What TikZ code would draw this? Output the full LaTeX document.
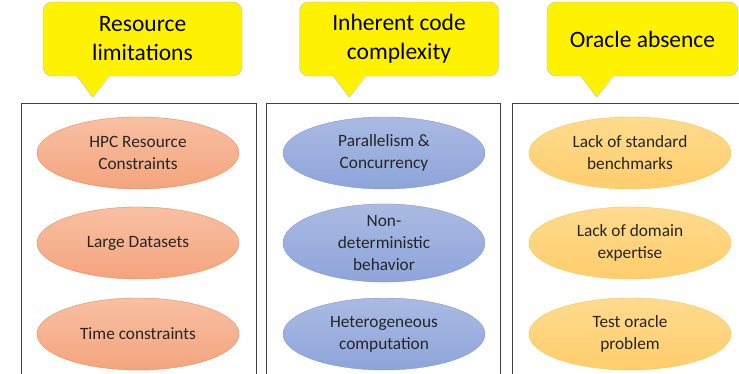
\documentclass[tikz,border=0pt]{standalone}
\usepackage{fontspec}
\setmainfont{Carlito}
\usepackage{pgf,tikz}
\usetikzlibrary{shapes, positioning}
\definecolor{naranjaA}{HTML}{F8C0A3}
\definecolor{naranjaB}{HTML}{F4A47D}
\definecolor{naranjaL}{HTML}{EF8A52}
\definecolor{azulA}{HTML}{AABAE3}
\definecolor{azulB}{HTML}{8EA4DA}
\definecolor{azulL}{HTML}{7F9BD6}
\definecolor{oroA}{HTML}{FFDB8E}
\definecolor{oroB}{HTML}{FFCD6C}
\definecolor{oroL}{HTML}{F9C446}
\definecolor{borde}{HTML}{BFBFBF}
\newcommand{\puntero}[1]{%
	\fill[yellow] ([xshift=33pt,yshift=1.5pt]#1.south west) -- ([xshift=50pt,yshift=-21pt]#1.south west) -- ([xshift=67pt,yshift=1.5pt]#1.south west) -- cycle;
	\draw[borde] ([xshift=34pt]#1.south west) -- ([xshift=50pt,yshift=-21pt]#1.south west) -- ([xshift=67pt]#1.south west);}
\tikzstyle{banner} = [draw=borde, fill=yellow, rounded corners=9pt, minimum width=199pt, minimum height=74pt, inner sep=0pt, align=center, font=\fontsize{23.5}{29}\selectfont]
\tikzstyle{panel} = [draw=black!75, line width=0.8pt]
\tikzstyle{causa} = [ellipse, minimum width=202pt, minimum height=72pt, inner sep=0pt, align=center, text=black!85, font=\fontsize{17.3}{22}\selectfont]
\tikzstyle{recurso} = [causa, draw=naranjaL, top color=naranjaA, bottom color=naranjaB]
\tikzstyle{codigo} = [causa, draw=azulL, top color=azulA, bottom color=azulB]
\tikzstyle{oraculo} = [causa, draw=oroL, top color=oroA, bottom color=oroB]

\begin{document}
\begin{tikzpicture}[x=1pt, y=-1pt]
	\useasboundingbox (0,0) rectangle (739,374);
	\clip (0,0) rectangle (739,374);
	% paneles
	\draw[panel] (21,103) rectangle (256,400);
	\draw[panel] (266,103) rectangle (500,400);
	\draw[panel] (512,103) rectangle (747,400);
	% titulos
	\node[banner] (tRec) at (142.5,39) {Resource\\limitations};
	\node[banner] (tCod) at (399,39) {Inherent code\\complexity};
	\node[banner, minimum width=191pt] (tOra) at (642.5,39) {Oracle absence};
	\puntero{tRec}
	\puntero{tCod}
	\puntero{tOra}
	% causas
	\node[recurso] (hpc) at (138,153) {HPC Resource\\Constraints};
	\node[recurso] (datos) at (138,243) {Large Datasets};
	\node[recurso] (tiempo) at (138,334) {Time constraints};
	\node[codigo] (paral) at (384,153) {Parallelism \&\\Concurrency};
	\node[codigo] (nodet) at (384,243) {Non-\\deterministic\\behavior};
	\node[codigo] (hetero) at (384,334) {Heterogeneous\\computation};
	\node[oraculo] (bench) at (630,153) {Lack of standard\\benchmarks};
	\node[oraculo] (dominio) at (630,243) {Lack of domain\\expertise};
	\node[oraculo] (oraculo) at (630,334) {Test oracle\\problem};
\end{tikzpicture}
\end{document}
